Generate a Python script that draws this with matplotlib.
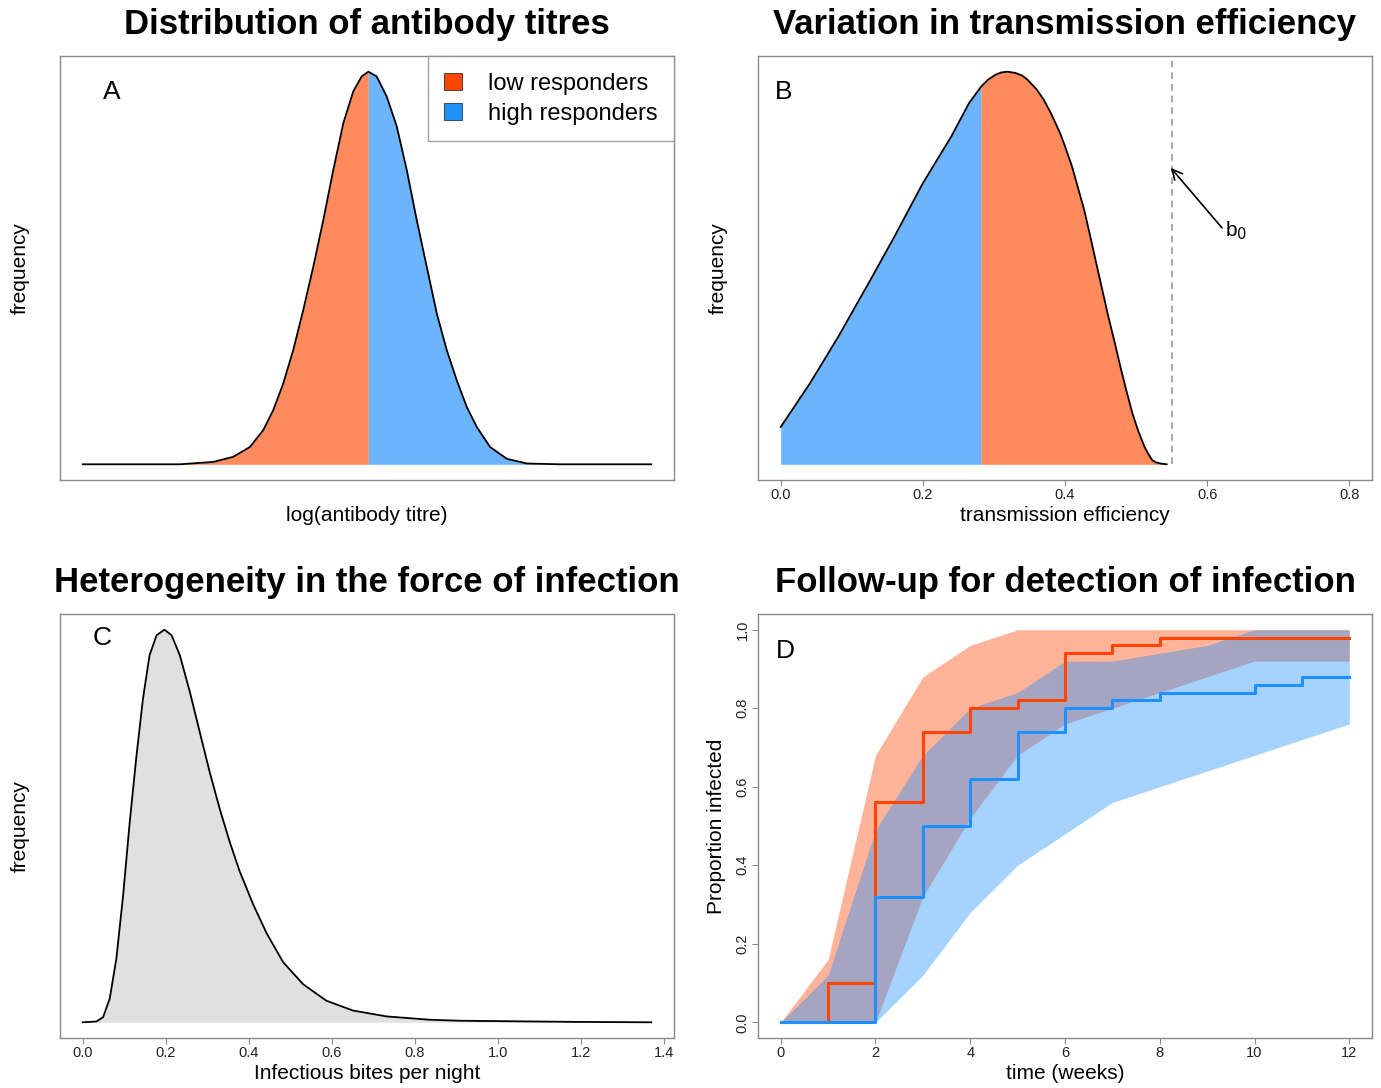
import matplotlib
matplotlib.use("Agg")
import matplotlib.pyplot as plt
from matplotlib.patches import Patch

plt.rcParams['font.family'] = ['Liberation Sans', 'DejaVu Sans']

# A: antibody titre density (log scale, arbitrary units), split at the peak
titre_x = [0.0, 1.37, 1.835, 2.117, 2.352, 2.540, 2.681, 2.822, 2.962, 3.103, 3.244,
           3.385, 3.526, 3.667, 3.807, 3.925, 4.019, 4.136, 4.277, 4.418, 4.559,
           4.700, 4.841, 4.982, 5.122, 5.263, 5.404, 5.545, 5.732, 5.968, 6.249,
           6.718, 8.0]
titre_freq = [0, 0, 0.006, 0.019, 0.044, 0.087, 0.138, 0.206, 0.291, 0.393, 0.503,
              0.622, 0.750, 0.869, 0.950, 0.988, 1.0, 0.988, 0.937, 0.861, 0.750,
              0.622, 0.503, 0.384, 0.291, 0.214, 0.146, 0.095, 0.044, 0.014, 0.002,
              0, 0]
titre_split = 4.019

# B: transmission efficiency density
eff_x = [0.0, 0.041, 0.081, 0.126, 0.160, 0.200, 0.240, 0.265, 0.282, 0.292, 0.302,
         0.310, 0.319, 0.330, 0.340, 0.347, 0.360, 0.370, 0.380, 0.393, 0.400, 0.410,
         0.427, 0.435, 0.444, 0.461, 0.470, 0.478, 0.486, 0.495, 0.503, 0.512, 0.518,
         0.523, 0.528, 0.534, 0.543]
eff_freq = [0.095, 0.206, 0.325, 0.469, 0.580, 0.716, 0.835, 0.920, 0.962, 0.980, 0.992,
            0.998, 1.0, 0.997, 0.99, 0.98, 0.955, 0.929, 0.895, 0.844, 0.81, 0.758,
            0.648, 0.585, 0.512, 0.376, 0.31, 0.248, 0.19, 0.129, 0.085, 0.044, 0.024,
            0.010, 0.005, 0.002, 0.0]
eff_split = 0.282
b0 = 0.55
eff_ticks = [0.0, 0.2, 0.4, 0.6, 0.8]

# C: infectious bites per night
bites_x = [0.0, 0.033, 0.049, 0.065, 0.081, 0.097, 0.113, 0.129, 0.145, 0.161, 0.178,
           0.197, 0.214, 0.234, 0.258, 0.282, 0.306, 0.330, 0.354, 0.378, 0.410,
           0.443, 0.483, 0.531, 0.587, 0.651, 0.732, 0.836, 0.908, 1.0, 1.186, 1.37]
bites_freq = [0, 0.002, 0.013, 0.060, 0.162, 0.320, 0.507, 0.674, 0.823, 0.935, 0.986,
              1.0, 0.986, 0.935, 0.842, 0.739, 0.637, 0.544, 0.460, 0.385, 0.302,
              0.227, 0.153, 0.097, 0.055, 0.030, 0.015, 0.0065, 0.004, 0.003, 0.001, 0]
bites_ticks = [0.0, 0.2, 0.4, 0.6, 0.8, 1.0, 1.2, 1.4]

# D: follow-up, proportion infected by week
weeks = list(range(13))
low_obs = [0, 0.10, 0.56, 0.74, 0.80, 0.82, 0.94, 0.96, 0.98, 0.98, 0.98, 0.98, 0.98]
high_obs = [0, 0, 0.32, 0.50, 0.62, 0.74, 0.80, 0.82, 0.84, 0.84, 0.86, 0.88, 0.88]
low_lo = [0, 0, 0, 0.32, 0.52, 0.68, 0.76, 0.80, 0.84, 0.88, 0.92, 0.92, 0.92]
low_hi = [0, 0.16, 0.68, 0.88, 0.96, 1, 1, 1, 1, 1, 1, 1, 1]
high_lo = [0, 0, 0, 0.12, 0.28, 0.40, 0.48, 0.56, 0.60, 0.64, 0.68, 0.72, 0.76]
high_hi = [0, 0.12, 0.49, 0.68, 0.80, 0.84, 0.92, 0.92, 0.94, 0.96, 1, 1, 1]
week_ticks = [0, 2, 4, 6, 8, 10, 12]
prop_ticks = [0.0, 0.2, 0.4, 0.6, 0.8, 1.0]

ORANGE = "#FF8A5C"
BLUE = "#6CB4FB"
FRAME = "#8a8a8a"

fig = plt.figure(figsize=(13.81, 10.88), dpi=100)
W, H = 1381, 1088


def make_axes(x0, y0, x1, y1):
    ax = fig.add_axes([x0 / W, 1 - y1 / H, (x1 - x0) / W, (y1 - y0) / H])
    for s in ax.spines.values():
        s.set_color(FRAME)
        s.set_linewidth(1.0)
    ax.tick_params(colors=FRAME, labelcolor="#222222", labelsize=10.5, length=4,
                   width=0.8, pad=2)
    ax.set_yticks([])
    return ax


def finish(ax, title, xlabel, ylabel, letter, lx, ly):
    ax.set_title(title, fontsize=25, fontweight="bold", pad=16)
    ax.set_xlabel(xlabel, fontsize=15, va="center")
    ax.xaxis.set_label_coords(0.5, -0.083)
    ax.set_ylabel(ylabel, fontsize=15, va="center", ha="center")
    ax.yaxis.set_label_coords(-0.065, 0.5)
    ax.text(lx, ly, letter, transform=ax.transAxes, fontsize=19,
            ha="center", va="center")


# A
axA = make_axes(60, 56, 674, 480)
axA.fill_between(titre_x, titre_freq, where=[x <= titre_split for x in titre_x],
                 color=ORANGE, lw=0)
axA.fill_between(titre_x, titre_freq, where=[x >= titre_split for x in titre_x],
                 color=BLUE, lw=0)
axA.plot(titre_x, titre_freq, color="black", lw=1.3)
axA.set_xlim(-0.32, 8.32)
axA.set_ylim(-0.04, 1.04)
axA.set_xticks([])
leg = axA.legend(handles=[Patch(facecolor="orangered", edgecolor="#333333", lw=0.6,
                                label="low responders"),
                          Patch(facecolor="dodgerblue", edgecolor="#333333", lw=0.6,
                                label="high responders")],
                 loc="upper right", fontsize=17, frameon=True, fancybox=False,
                 borderaxespad=0, borderpad=0.7, handlelength=0.75, handleheight=0.75,
                 handletextpad=1.1, labelspacing=0.35)
leg.get_frame().set_edgecolor(FRAME)
leg.get_frame().set_linewidth(1.0)
finish(axA, "Distribution of antibody titres", "log(antibody titre)", "frequency",
       "A", 0.085, 0.915)

# B
axB = make_axes(758, 56, 1372, 480)
axB.fill_between(eff_x, eff_freq, where=[x <= eff_split for x in eff_x],
                 color=BLUE, lw=0)
axB.fill_between(eff_x, eff_freq, where=[x >= eff_split for x in eff_x],
                 color=ORANGE, lw=0)
axB.plot(eff_x, eff_freq, color="black", lw=1.3)
axB.plot([b0, b0], [0, 1.04], color="#999999", lw=1.2, ls=(0, (4, 3)))
axB.annotate("", xy=(0.549, 0.755), xytext=(0.621, 0.602),
             arrowprops=dict(arrowstyle="->", lw=1.2, color="black",
                             mutation_scale=18, shrinkA=0, shrinkB=0))
axB.text(0.625, 0.595, "b$_0$", fontsize=15, ha="left", va="center")
axB.set_xlim(-0.032, 0.832)
axB.set_ylim(-0.04, 1.04)
axB.set_xticks(eff_ticks)
axB.set_xticklabels([f"{t:.1f}" for t in eff_ticks])
finish(axB, "Variation in transmission efficiency", "transmission efficiency",
       "frequency", "B", 0.041, 0.915)

# C
axC = make_axes(60, 614, 674, 1038)
axC.fill_between(bites_x, bites_freq, color="#E0E0E0", lw=0)
axC.plot(bites_x, bites_freq, color="black", lw=1.3)
axC.set_xlim(-0.0548, 1.4248)
axC.set_ylim(-0.04, 1.04)
axC.set_xticks(bites_ticks)
axC.set_xticklabels([f"{t:.1f}" for t in bites_ticks])
finish(axC, "Heterogeneity in the force of infection", "Infectious bites per night",
       "frequency", "C", 0.068, 0.943)

# D
axD = make_axes(758, 614, 1372, 1038)
axD.fill_between(weeks, low_lo, low_hi, color="orangered", alpha=0.4, lw=0)
axD.fill_between(weeks, high_lo, high_hi, color="dodgerblue", alpha=0.4, lw=0)
axD.step(weeks, low_obs, where="post", color="orangered", lw=2.2)
axD.step(weeks, high_obs, where="post", color="dodgerblue", lw=2.2)
axD.set_xlim(-0.48, 12.48)
axD.set_ylim(-0.04, 1.04)
axD.set_xticks(week_ticks)
axD.set_yticks(prop_ticks)
axD.set_yticklabels([f"{t:.1f}" for t in prop_ticks], rotation=90, va="center")
finish(axD, "Follow-up for detection of infection", "time (weeks)",
       "Proportion infected", "D", 0.044, 0.913)
axD.yaxis.set_label_coords(-0.068, 0.5)

fig.savefig("out.png", dpi=100, facecolor="white")
